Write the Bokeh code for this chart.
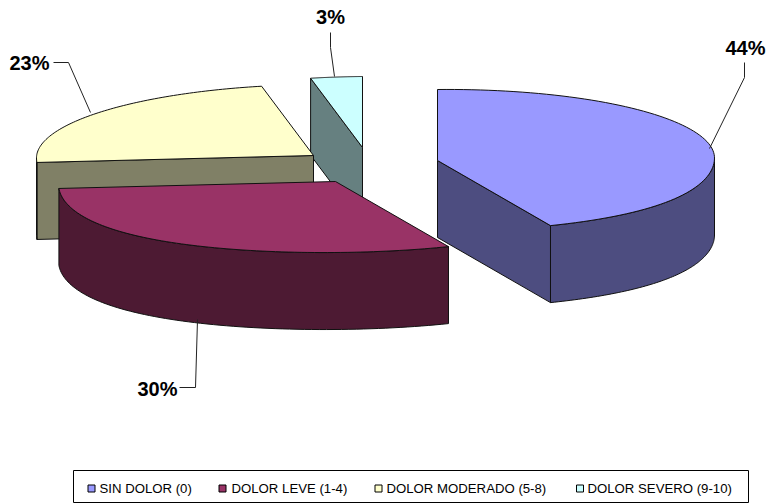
import numpy as np
from bokeh.embed import file_html
from bokeh.models import ColumnDataSource, Range1d
from bokeh.plotting import figure
from bokeh.resources import INLINE
from bokeh.core.properties import value

categories = ["SIN DOLOR (0)", "DOLOR LEVE (1-4)", "DOLOR MODERADO (5-8)", "DOLOR SEVERO (9-10)"]
shares = [44, 30, 23, 3]
top_colors = ["#9999FF", "#993366", "#FFFFCC", "#CCFFFF"]
side_colors = ["#4D4D80", "#4D1A33", "#808066", "#668080"]

# Exploded position of each wedge's apex, on the page
apex_x = [437, 335, 313, 362]
apex_y = [160, 181, 155, 147]
RX, RY, PERSPECTIVE, TILT, DEPTH = 277, 71, 0.125, 2.5, 77

legend_swatch_x = [91, 222, 378, 579.5]
legend_text_x = [99, 231, 386, 587]

label_text = ["44%", "30%", "23%", "3%"]
label_x = [745, 157, 29, 330]
label_y = [47, 388, 62, 16]
leader_x = [[709, 744, 744], [197, 195, 179], [90, 68, 53], [334, 330, 330]]
leader_y = [[148, 77, 62], [319, 387, 387], [112, 62, 62], [76, 47, 32]]


def rim(i, t):
    """Project an angle (clockwise from the back of the pie) onto the tilted rim."""
    c = np.cos(t)
    scale = RX * (1 + PERSPECTIVE * np.where(c < 0, c * c, 0))
    return apex_x[i] + scale * np.sin(t), apex_y[i] - RY * c - TILT * np.sin(t)


def bounds(i):
    start = sum(shares[:i]) / sum(shares) * 2 * np.pi
    return start, start + shares[i] / sum(shares) * 2 * np.pi


p = figure(width=767, height=503, output_backend="svg", toolbar_location=None,
           x_range=Range1d(0, 767), y_range=Range1d(503, 0),
           min_border=0, outline_line_color=None, background_fill_color="white")
p.axis.visible = False
p.grid.visible = False


def patch(xs, ys, color):
    p.patch(list(xs), list(ys), fill_color=color, line_color="#111111", line_width=1)


# Back-to-front: the far wedges are overlapped by the nearer ones
for i in [3, 2, 0, 1]:
    start, end = bounds(i)
    t = np.linspace(start, end, 90)
    ax, ay = apex_x[i], apex_y[i]

    # Cut faces seen from the front
    if i in (2, 3):
        x0, y0 = rim(i, start)
        patch([x0, ax, ax, x0], [y0, ay, ay + DEPTH, y0 + DEPTH], side_colors[i])
    if i == 0:
        x1, y1 = rim(i, end)
        patch([ax, x1, x1, ax], [ay, y1, y1 + DEPTH, ay + DEPTH], side_colors[i])

    # Outer wall, only where the rim faces the viewer
    lo, hi = max(start, np.pi / 2), min(end, 3 * np.pi / 2)
    if hi > lo:
        wall = np.linspace(lo, hi, 80)
        wx, wy = rim(i, wall)
        patch(np.r_[wx, wx[::-1]], np.r_[wy, wy[::-1] + DEPTH], side_colors[i])

    # Top face
    rx, ry = rim(i, t)
    patch(np.r_[ax, rx], np.r_[ay, ry], top_colors[i])

# Leader lines and value labels
for lx, ly in zip(leader_x, leader_y):
    p.line(lx, ly, line_color="#222222", line_width=1)
p.text(x=label_x, y=label_y, text=label_text, text_font=value("Liberation Sans"),
       text_font_style="bold", text_font_size="20px", text_color="black",
       text_align="center", text_baseline="middle")

# Legend frame, swatches and captions
p.quad(left=[73], right=[748], top=[470], bottom=[502], fill_color="white",
       line_color="black", line_width=1)
legend = ColumnDataSource(dict(x=legend_swatch_x, tx=legend_text_x, name=categories, color=top_colors))
p.rect(x="x", y=488, width=7, height=7, source=legend, fill_color="color", line_color="black", line_width=1)
p.text(x="tx", y=488, text="name", source=legend, text_font=value("Liberation Sans"),
       text_font_size="13.2px", text_color="black", text_align="left", text_baseline="middle")

open("out.html", "w").write(file_html(p, INLINE))
